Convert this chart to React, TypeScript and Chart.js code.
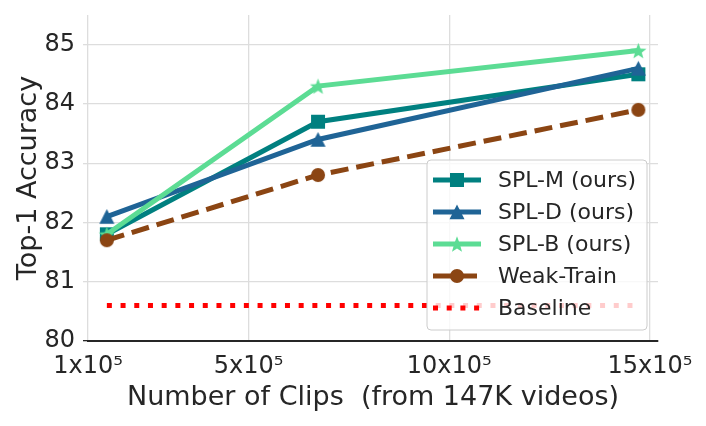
import { useEffect, useRef } from "react";
import { Chart, registerables } from "chart.js";

Chart.register(...registerables);

// ---- data ----
const clipCounts = [147000, 673000, 1471000];
const splM = [81.8, 83.7, 84.5];
const splD = [82.1, 83.4, 84.6];
const splB = [81.8, 84.3, 84.9];
const weakTrain = [81.7, 82.8, 83.9];
const baseline = [80.6, 80.6, 80.6];
const seriesNames = ["SPL-M (ours)", "SPL-D (ours)", "SPL-B (ours)", "Weak-Train", "Baseline"];
const xTickValues = [100000, 500000, 1000000, 1500000];
const yTickValues = [80, 81, 82, 83, 84, 85];
const xTitle = "Number of Clips  (from 147K videos)";
const yTitle = "Top-1 Accuracy";

const FONT = "'DejaVu Sans', sans-serif";
const TEXT = "#262626";
const GRID = "#dddddd";

type Shape = "square" | "triangle" | "star" | "circle" | "none";

function drawShape(g: CanvasRenderingContext2D, shape: Shape, size: number) {
  const r = size / 2;
  g.beginPath();
  if (shape === "square") {
    g.rect(-r, -r, size, size);
  } else if (shape === "triangle") {
    g.moveTo(0, -r);
    g.lineTo(r, r * 0.95);
    g.lineTo(-r, r * 0.95);
    g.closePath();
  } else if (shape === "circle") {
    g.arc(0, 0, r, 0, Math.PI * 2);
  } else if (shape === "star") {
    const inner = r * 0.42;
    for (let i = 0; i < 10; i++) {
      const rad = i % 2 === 0 ? r : inner;
      const a = -Math.PI / 2 + (i * Math.PI) / 5;
      const px = Math.cos(a) * rad;
      const py = Math.sin(a) * rad + r * 0.1;
      if (i === 0) g.moveTo(px, py);
      else g.lineTo(px, py);
    }
    g.closePath();
  }
  g.fill();
}

function makeMarker(shape: Shape, color: string, size: number): HTMLCanvasElement {
  const c = document.createElement("canvas");
  const s = Math.ceil(size + 4);
  c.width = s;
  c.height = s;
  const g = c.getContext("2d")!;
  g.fillStyle = color;
  g.translate(s / 2, s / 2);
  drawShape(g, shape, size);
  return c;
}

const seriesStyle = [
  { color: "#008080", shape: "square" as Shape, size: 14, dash: [] as number[] },
  { color: "#1f6496", shape: "triangle" as Shape, size: 15, dash: [] as number[] },
  { color: "#5cdc94", shape: "star" as Shape, size: 17, dash: [] as number[] },
  { color: "#8b4513", shape: "circle" as Shape, size: 14, dash: [18, 8] },
  { color: "#ff0000", shape: "none" as Shape, size: 0, dash: [5, 8.7] },
];

const legendPlugin = {
  id: "insideLegend",
  afterDatasetsDraw(chart: any) {
    const { ctx, chartArea } = chart;
    const w = 220;
    const h = 170;
    const x0 = chartArea.right - 11 - w;
    const y0 = chartArea.bottom - 11 - h;
    ctx.save();
    ctx.beginPath();
    ctx.roundRect(x0, y0, w, h, 4);
    ctx.fillStyle = "rgba(255,255,255,0.8)";
    ctx.fill();
    ctx.strokeStyle = "#cccccc";
    ctx.lineWidth = 1;
    ctx.stroke();
    chart.data.datasets.forEach((ds: any, i: number) => {
      const st = seriesStyle[i];
      const y = y0 + 20 + i * 32;
      ctx.beginPath();
      ctx.setLineDash(st.dash);
      ctx.lineCap = "butt";
      ctx.strokeStyle = st.color;
      ctx.lineWidth = 5;
      ctx.moveTo(x0 + 6, y);
      ctx.lineTo(x0 + 54, y);
      ctx.stroke();
      ctx.setLineDash([]);
      if (st.shape !== "none") {
        ctx.save();
        ctx.translate(x0 + 30, y);
        ctx.fillStyle = st.color;
        drawShape(ctx, st.shape, st.size);
        ctx.restore();
      }
      ctx.fillStyle = TEXT;
      ctx.font = `22px ${FONT}`;
      ctx.textBaseline = "middle";
      ctx.textAlign = "left";
      ctx.fillText(ds.label, x0 + 71, y + 1);
    });
    ctx.restore();
  },
};

export default function App() {
  const ref = useRef<HTMLCanvasElement | null>(null);

  useEffect(() => {
    document.body.style.margin = "0";
    const canvas = ref.current!;
    const seriesValues = [splM, splD, splB, weakTrain, baseline];
    const datasets = seriesValues.map((vals, i) => {
      const st = seriesStyle[i];
      return {
        label: seriesNames[i],
        data: vals.map((v, j) => ({ x: clipCounts[j], y: v })),
        borderColor: st.color,
        backgroundColor: st.color,
        borderWidth: 5,
        borderDash: st.dash,
        borderCapStyle: "butt" as const,
        pointStyle: st.shape === "none" ? false : (makeMarker(st.shape, st.color, st.size) as any),
        pointRadius: st.shape === "none" ? 0 : 7,
        tension: 0,
        order: 5 - i,
      };
    });

    const chart = new Chart(canvas, {
      type: "line",
      data: { datasets },
      plugins: [legendPlugin],
      options: {
        animation: false,
        responsive: false,
        maintainAspectRatio: false,
        layout: { padding: { top: 15, right: 48, bottom: 0, left: 0 } },
        plugins: { legend: { display: false }, tooltip: { enabled: false } },
        scales: {
          x: {
            type: "linear",
            min: 100000,
            max: 1520000,
            afterBuildTicks: (s: any) => {
              s.ticks = xTickValues.map((v) => ({ value: v }));
            },
            afterFit: (s: any) => {
              s.height = 85;
              s.paddingLeft = 0;
              s.paddingRight = 0;
            },
            ticks: {
              callback: (v: any) => `${Number(v) / 100000}x10⁵`,
              font: { family: FONT, size: 24 },
              color: TEXT,
              padding: 11,
              maxRotation: 0,
              autoSkip: false,
            },
            grid: { color: GRID, lineWidth: 1.3, drawTicks: false },
            border: { display: true, color: TEXT, width: 2 },
            title: {
              display: true,
              text: xTitle,
              font: { family: FONT, size: 27 },
              color: TEXT,
              padding: { top: 0, bottom: 12 },
            },
          },
          y: {
            min: 80,
            max: 85.5,
            afterBuildTicks: (s: any) => {
              s.ticks = yTickValues.map((v) => ({ value: v }));
            },
            afterFit: (s: any) => {
              s.width = 88;
              s.paddingTop = 0;
              s.paddingBottom = 0;
            },
            ticks: {
              callback: (v: any) => String(v),
              font: { family: FONT, size: 24 },
              color: TEXT,
              padding: 8,
            },
            grid: {
              color: (c: any) => (c.tick && c.tick.value === 80 ? "rgba(0,0,0,0)" : GRID),
              tickColor: (c: any) => (c.tick && c.tick.value === 80 ? TEXT : GRID),
              tickLength: 5,
              lineWidth: 1.3,
            },
            border: { display: false },
            title: {
              display: true,
              text: yTitle,
              font: { family: FONT, size: 27 },
              color: TEXT,
              padding: { top: 13, bottom: 0 },
            },
          },
        },
      },
    });
    return () => chart.destroy();
  }, []);

  return (
    <div style={{ width: 706, height: 426, background: "#ffffff" }}>
      <canvas ref={ref} width={706} height={426} style={{ display: "block" }} />
    </div>
  );
}
